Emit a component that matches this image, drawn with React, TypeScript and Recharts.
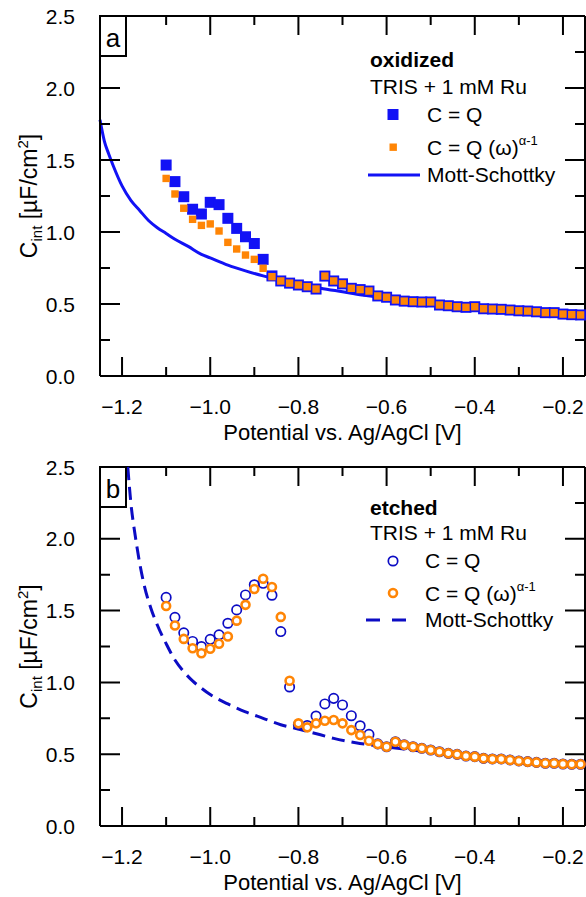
import React from 'react'
import { ComposedChart, Scatter, Line, XAxis, YAxis, ReferenceLine } from 'recharts'

const FONT = '"Liberation Sans", Arial, Helvetica, sans-serif'

const X_DOMAIN = [-1.25, -0.15]
const Y_DOMAIN = [0, 2.5]
const X_TICKS = [-1.2, -1.1, -1.0, -0.9, -0.8, -0.7, -0.6, -0.5, -0.4, -0.3, -0.2]
const Y_TICKS = [0, 0.25, 0.5, 0.75, 1.0, 1.25, 1.5, 1.75, 2.0, 2.25, 2.5]

// potentials of the measured points [V]
const potentials = [
  -1.10, -1.08, -1.06, -1.04, -1.02, -1.00, -0.98, -0.96, -0.94, -0.92,
  -0.90, -0.88, -0.86, -0.84, -0.82, -0.80, -0.78, -0.76, -0.74, -0.72,
  -0.70, -0.68, -0.66, -0.64, -0.62, -0.60, -0.58, -0.56, -0.54, -0.52,
  -0.50, -0.48, -0.46, -0.44, -0.42, -0.40, -0.38, -0.36, -0.34, -0.32,
  -0.30, -0.28, -0.26, -0.24, -0.22, -0.20, -0.18, -0.16,
]

// (a) oxidized
const oxQ = [
  1.465, 1.35, 1.245, 1.158, 1.125, 1.206, 1.19, 1.095, 1.025, 0.967,
  0.92, 0.81, 0.695, 0.66, 0.645, 0.632, 0.62, 0.604, 0.694, 0.66,
  0.64, 0.609, 0.6, 0.59, 0.556, 0.547, 0.528, 0.52, 0.516, 0.514,
  0.514, 0.493, 0.488, 0.481, 0.477, 0.481, 0.467, 0.465, 0.463, 0.458,
  0.453, 0.451, 0.446, 0.44, 0.44, 0.43, 0.426, 0.424,
]
const oxQw = [
  1.372, 1.264, 1.165, 1.088, 1.046, 1.056, 1.007, 0.928, 0.882, 0.84,
  0.81, 0.748, 0.69, 0.66, 0.645, 0.632, 0.62, 0.604, 0.694, 0.66,
  0.64, 0.609, 0.6, 0.59, 0.556, 0.547, 0.528, 0.52, 0.516, 0.514,
  0.514, 0.493, 0.488, 0.481, 0.477, 0.481, 0.467, 0.465, 0.463, 0.458,
  0.453, 0.451, 0.446, 0.44, 0.44, 0.43, 0.426, 0.424,
]
const oxMsX = [
  -1.25, -1.24, -1.23, -1.22, -1.20, -1.18, -1.16, -1.14, -1.12, -1.10,
  -1.08, -1.05, -1.02, -1.00, -0.96, -0.92, -0.88, -0.84, -0.80, -0.75,
  -0.70, -0.65, -0.60, -0.50, -0.40, -0.30, -0.20, -0.15,
]
const oxMsY = [
  1.78, 1.63, 1.54, 1.46, 1.32, 1.22, 1.15, 1.08, 1.03, 0.99,
  0.95, 0.9, 0.845, 0.82, 0.77, 0.73, 0.695, 0.665, 0.64, 0.61,
  0.585, 0.56, 0.54, 0.505, 0.478, 0.455, 0.435, 0.425,
]

// (b) etched
const etQ = [
  1.592, 1.453, 1.345, 1.285, 1.25, 1.3, 1.331, 1.412, 1.505, 1.609,
  1.68, 1.69, 1.607, 1.354, 0.968, 0.705, 0.7, 0.766, 0.85, 0.889,
  0.843, 0.768, 0.698, 0.638, 0.572, 0.552, 0.587, 0.565, 0.552, 0.541,
  0.529, 0.517, 0.506, 0.499, 0.487, 0.483, 0.471, 0.467, 0.467, 0.46,
  0.453, 0.448, 0.443, 0.437, 0.437, 0.432, 0.43, 0.43,
]
const etQw = [
  1.532, 1.396, 1.303, 1.238, 1.203, 1.234, 1.269, 1.32, 1.43, 1.54,
  1.65, 1.722, 1.664, 1.456, 1.011, 0.715, 0.687, 0.715, 0.733, 0.738,
  0.715, 0.668, 0.634, 0.594, 0.571, 0.552, 0.587, 0.565, 0.552, 0.541,
  0.529, 0.517, 0.506, 0.499, 0.487, 0.483, 0.471, 0.467, 0.467, 0.46,
  0.453, 0.448, 0.443, 0.437, 0.437, 0.432, 0.43, 0.43,
]
const etMsX = [
  -1.187, -1.18, -1.17, -1.16, -1.15, -1.135, -1.12, -1.10, -1.08, -1.06,
  -1.04, -1.02, -1.00, -0.96, -0.92, -0.88, -0.84, -0.80, -0.75, -0.72,
  -0.67, -0.60, -0.50, -0.40, -0.30, -0.20, -0.15,
]
const etMsY = [
  2.5, 2.25, 2.02, 1.83, 1.68, 1.52, 1.4, 1.27, 1.156, 1.075,
  1.01, 0.96, 0.915, 0.85, 0.795, 0.75, 0.705, 0.675, 0.635, 0.61,
  0.58, 0.55, 0.515, 0.485, 0.46, 0.44, 0.43,
]

const BLUE_A = '#1212f5'
const BLUE_B = '#0c0cc4'
const ORANGE = '#ff8505'
const INK = '#000'

const W = 586
const PLOT_LEFT = 100
const PLOT_RIGHT = 585
const TOP = 16

const pts = (xs: number[], ys: number[]) => xs.map((x, i) => ({ x, y: ys[i] }))

const oxQData = pts(potentials, oxQ)
const oxQwData = pts(potentials, oxQw)
const oxMsData = pts(oxMsX, oxMsY)
const etQData = pts(potentials, etQ)
const etQwData = pts(potentials, etQw)
const etMsData = pts(etMsX, etMsY)

const isMajorX = (v: number) => Math.round(v * 10) % 2 === 0
const isMajorY = (v: number) => Math.abs(v * 2 - Math.round(v * 2)) < 1e-6

// x ticks: inward marks at the bottom and mirrored at the top, label under the axis
const makeXTick = (bottom: number) => (p: any) => {
  const v = p.payload.value
  const major = isMajorX(v)
  const len = major ? 19 : 9
  return (
    <g>
      <path d={`M${p.x},${bottom}V${bottom - len}M${p.x},${TOP}V${TOP + len}`} stroke={INK} strokeWidth={2} fill="none" />
      {major && (
        <text x={p.x} y={bottom + 38} textAnchor="middle" fontSize={21} fontFamily={FONT} fill={INK}>
          {'\u2212' + Math.abs(v).toFixed(1)}
        </text>
      )}
    </g>
  )
}

// y ticks: inward marks on the left and mirrored on the right
const yTick = (p: any) => {
  const v = p.payload.value
  const major = isMajorY(v)
  const len = major ? 20 : 10
  return (
    <g>
      <path d={`M${PLOT_LEFT},${p.y}H${PLOT_LEFT + len}M${PLOT_RIGHT},${p.y}H${PLOT_RIGHT - len}`} stroke={INK} strokeWidth={2} fill="none" />
      {major && (
        <text x={75} y={p.y} dy="0.36em" textAnchor="end" fontSize={21} fontFamily={FONT} fill={INK}>
          {v.toFixed(1)}
        </text>
      )}
    </g>
  )
}

const bigSquare = (p: any) => <rect x={p.cx - 5.5} y={p.cy - 5.5} width={11} height={11} fill={BLUE_A} />
const smallSquare = (p: any) => <rect x={p.cx - 3.7} y={p.cy - 3.7} width={7.4} height={7.4} fill={ORANGE} />
const blueCircle = (p: any) => <circle cx={p.cx} cy={p.cy} r={4.7} fill="none" stroke={BLUE_B} strokeWidth={1.7} />
const orangeCircle = (p: any) => <circle cx={p.cx} cy={p.cy} r={4} fill="#fff" stroke={ORANGE} strokeWidth={2.6} />

const xTickA = makeXTick(376)
const xTickB = makeXTick(375)
const frame = { stroke: INK, strokeWidth: 2 }

function Texts(props: { letter: string; title: string; kind: 'a' | 'b'; bottom: number; height: number; y0: number }) {
  const { letter, title, kind, bottom, height, y0 } = props
  const midY = (TOP + bottom) / 2
  return (
    <svg
      width={W}
      height={height}
      style={{ position: 'absolute', left: 0, top: y0, pointerEvents: 'none' }}
      fontFamily={FONT}
    >
      <rect x={PLOT_LEFT} y={TOP} width={26} height={40} fill="#fff" stroke={INK} strokeWidth={2} />
      <text x={PLOT_LEFT + 13} y={TOP + 31} textAnchor="middle" fontSize={26}>{letter}</text>

      <text transform="rotate(-90)" x={-midY} y={37} textAnchor="middle" fontSize={23}>
        C<tspan fontSize={15} dy={5}>int</tspan>
        <tspan dy={-5}> [µF/cm</tspan>
        <tspan fontSize={15} dy={-9}>2</tspan>
        <tspan dy={9}>]</tspan>
      </text>

      <text x={(PLOT_LEFT + PLOT_RIGHT) / 2} y={bottom + 64} textAnchor="middle" fontSize={22}>
        Potential vs. Ag/AgCl [V]
      </text>

      {kind === 'a' ? (
        <g fontSize={21}>
          <text x={370} y={67} fontWeight="bold">{title}</text>
          <text x={370} y={94}>TRIS + 1 mM Ru</text>
          <rect x={387.5} y={109} width={11} height={11} fill={BLUE_A} />
          <text x={427} y={122}>C = Q</text>
          <rect x={389.5} y={143.5} width={7.4} height={7.4} fill={ORANGE} />
          <text x={427} y={155}>
            C = Q (ω)<tspan fontSize={13} dy={-10}>α-1</tspan>
          </text>
          <line x1={368} x2={420} y1={175} y2={175} stroke={BLUE_A} strokeWidth={3} />
          <text x={427} y={182}>Mott-Schottky</text>
        </g>
      ) : (
        <g fontSize={21}>
          <text x={370} y={64} fontWeight="bold">{title}</text>
          <text x={370} y={89}>TRIS + 1 mM Ru</text>
          <circle cx={393} cy={110} r={4.7} fill="none" stroke={BLUE_B} strokeWidth={1.7} />
          <text x={425} y={117}>C = Q</text>
          <circle cx={393} cy={142} r={4} fill="#fff" stroke={ORANGE} strokeWidth={2.6} />
          <text x={425} y={150}>
            C = Q (ω)<tspan fontSize={13} dy={-10}>α-1</tspan>
          </text>
          <line x1={366} x2={407} y1={169} y2={169} stroke={BLUE_B} strokeWidth={3} strokeDasharray="14 12" />
          <text x={425} y={176}>Mott-Schottky</text>
        </g>
      )}
    </svg>
  )
}

export default function App() {
  return (
    <div style={{ position: 'absolute', left: 0, top: 0, width: W, height: 897 }}>
      <div style={{ position: 'absolute', left: 0, top: 0 }}>
        <ComposedChart width={W} height={451} margin={{ top: TOP, right: W - PLOT_RIGHT, bottom: 0, left: 0 }}>
          <XAxis dataKey="x" type="number" domain={X_DOMAIN} ticks={X_TICKS} interval={0} height={75}
            axisLine={frame} tickLine={false} tick={xTickA} />
          <YAxis dataKey="y" type="number" domain={Y_DOMAIN} ticks={Y_TICKS} interval={0} width={PLOT_LEFT}
            axisLine={frame} tickLine={false} tick={yTick} />
          <ReferenceLine y={2.5} stroke={INK} strokeWidth={2} ifOverflow="visible" />
          <ReferenceLine x={-0.15} stroke={INK} strokeWidth={2} ifOverflow="visible" />
          <Line data={oxMsData} dataKey="y" type="monotone" stroke={BLUE_A} strokeWidth={3} dot={false} activeDot={false} isAnimationActive={false} />
          <Scatter data={oxQData} shape={bigSquare} isAnimationActive={false} />
          <Scatter data={oxQwData} shape={smallSquare} isAnimationActive={false} />
        </ComposedChart>
      </div>
      <div style={{ position: 'absolute', left: 0, top: 451 }}>
        <ComposedChart width={W} height={446} margin={{ top: TOP, right: W - PLOT_RIGHT, bottom: 0, left: 0 }}>
          <XAxis dataKey="x" type="number" domain={X_DOMAIN} ticks={X_TICKS} interval={0} height={71}
            axisLine={frame} tickLine={false} tick={xTickB} />
          <YAxis dataKey="y" type="number" domain={Y_DOMAIN} ticks={Y_TICKS} interval={0} width={PLOT_LEFT}
            axisLine={frame} tickLine={false} tick={yTick} />
          <ReferenceLine y={2.5} stroke={INK} strokeWidth={2} ifOverflow="visible" />
          <ReferenceLine x={-0.15} stroke={INK} strokeWidth={2} ifOverflow="visible" />
          <Line data={etMsData} dataKey="y" type="monotone" stroke={BLUE_B} strokeWidth={3} strokeDasharray="13 7" dot={false} activeDot={false} isAnimationActive={false} />
          <Scatter data={etQData} shape={blueCircle} isAnimationActive={false} />
          <Scatter data={etQwData} shape={orangeCircle} isAnimationActive={false} />
        </ComposedChart>
      </div>
      <Texts letter="a" title="oxidized" kind="a" bottom={376} height={451} y0={0} />
      <Texts letter="b" title="etched" kind="b" bottom={375} height={446} y0={451} />
    </div>
  )
}
